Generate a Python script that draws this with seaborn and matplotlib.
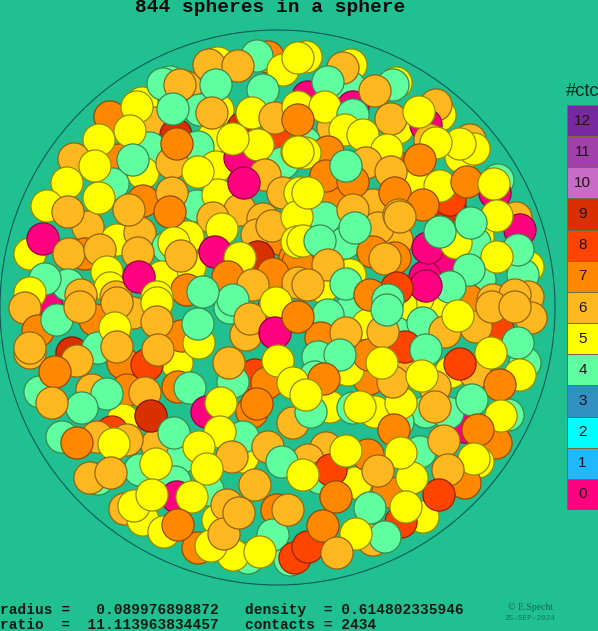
import numpy as np
import pandas as pd
import matplotlib
matplotlib.use("Agg")
import matplotlib.pyplot as plt
from matplotlib.colors import ListedColormap, to_rgba
from matplotlib.patches import Circle
import seaborn as sns

# Contact counts and their colours
ctc_levels = [12, 11, 10, 9, 8, 7, 6, 5, 4, 3, 2, 1, 0]
ctc_colors = ["#7828A0", "#A040A8", "#C86CC8", "#D83000", "#FF4400", "#FF8800", "#FFB81F",
              "#FFFF00", "#60FFA0", "#3090C0", "#00FFFF", "#20B8FF", "#FF0080"]
background = "#20C090"

# Spheres deep in the packing
rear_spheres = [
    (268,57,7),(218,63,5),(170,82,4),(186,87,6),(110,117,7),(142,103,5),(200,110,4),(218,110,5),
    (297,122,7),(153,123,6),(176,135,9),(213,138,5),(198,147,4),(150,148,4),(277,140,8),(243,128,9),
    (283,163,4),(120,160,7),(143,173,5),(172,163,6),(216,167,5),(240,158,0),(113,184,4),(143,201,7),
    (197,206,4),(218,195,5),(240,210,6),(213,218,6),(263,219,6),(257,235,6),(283,240,7),(88,227,6),
    (117,240,5),(140,233,6),(30,254,5),(85,254,7),(168,247,4),(188,237,5),(190,267,5),(258,257,9),
    (295,258,7),(68,285,4),(162,277,5),(187,290,7),
    (351,65,5),(350,87,4),(396,83,5),(308,97,0),(353,107,0),(398,128,5),(440,115,5),(436,105,6),
    (426,125,0),(333,128,6),(430,140,6),(474,149,5),(470,140,6),(461,157,5),(305,143,4),(398,168,8),
    (498,180,4),(495,193,0),(418,180,5),(447,197,5),(450,208,9),(450,200,8),(313,192,5),(338,197,7),
    (373,205,6),(325,218,4),(516,218,6),(520,230,0),(478,237,5),(475,243,4),(446,262,0),(528,267,5),
    (480,280,4),(425,277,0),(345,243,4),(397,240,6),(378,228,6),(373,252,7),(395,258,7),(350,275,5),
    (523,275,4),(323,287,5),(298,263,7),(528,297,6),(468,300,7),(441,303,5),(418,298,5),(401,305,5),
    (351,310,4),
    (47,307,0),(95,320,7),(133,313,6),(30,353,6),(72,353,9),(98,348,4),(123,363,7),(177,363,5),
    (182,336,7),(230,308,4),(273,310,10),(255,375,8),(267,383,7),(252,412,7),(178,387,7),(92,390,6),
    (40,392,4),(127,390,7),(123,420,5),(157,445,6),(182,457,4),(175,482,4),(140,470,4),(112,432,8),
    (127,440,6),(97,437,6),(62,437,4),(98,479,4),(90,478,6),(125,509,6),(143,520,5),(177,497,0),
    (164,532,5),(198,548,7),(208,490,4),(218,520,5),(227,505,6),(277,510,7),(248,558,4),(233,555,5),
    (290,560,4),(243,457,5),
    (328,315,4),(321,338,7),(396,333,4),(368,325,5),(423,323,4),(498,330,8),(525,363,4),(451,372,5),
    (475,373,6),(508,415,4),(496,443,7),(465,427,0),(478,462,5),(465,483,7),(423,517,5),(401,522,8),
    (426,412,4),(448,413,4),(398,422,4),(420,452,4),(388,492,7),(373,540,6),(385,537,4),(356,483,5),
    (368,455,7),(326,448,6),(308,460,6),(320,478,4),(331,470,8),(330,407,5),(353,408,4),(375,412,5),
    (401,403,5),(369,379,7),(405,363,6),(435,387,6),(318,357,4),(348,370,5),(315,377,4),(369,355,7),
    (405,347,8),
]

# Spheres resting on top of them, nearest last
front_spheres = [
    (257,56,4),(209,65,6),(238,66,6),(283,70,5),(163,84,4),(180,85,6),(216,85,4),(263,90,4),
    (137,107,5),(173,109,4),(212,113,6),(252,113,5),(275,118,6),(130,131,5),(99,140,5),(177,144,7),
    (258,145,5),(233,139,5),(297,152,5),(74,159,6),(133,160,4),(95,166,5),(198,172,5),(265,175,6),
    (244,183,0),(67,183,5),(99,198,5),(172,193,6),(170,212,7),(129,210,6),(47,206,5),(68,212,6),
    (283,193,6),(300,193,5),(272,226,6),(222,229,5),(297,217,5),(43,239,0),(69,254,6),(100,250,6),
    (138,253,6),(174,243,5),(181,256,6),(215,252,0),(240,258,5),(228,277,7),(273,274,7),(253,285,6),
    (68,285,4),(45,279,4),(30,293,5),(107,272,5),(110,288,5),(81,295,6),(116,297,6),(139,277,0),
    (157,297,5),(233,300,4),(203,292,4),(298,283,6),(297,242,5),
    (306,57,5),(298,58,5),(343,68,6),(328,82,4),(393,85,4),(375,91,6),(298,107,5),(325,107,5),
    (353,115,4),(391,119,6),(419,112,5),(298,120,7),(345,130,5),(363,135,5),(474,149,5),(460,144,5),
    (436,143,5),(328,152,7),(387,150,5),(305,153,5),(298,152,5),(366,163,6),(420,160,7),(391,172,6),
    (326,176,7),(353,182,7),(346,166,4),(440,186,5),(467,182,7),(494,184,5),(308,193,5),(395,193,7),
    (423,205,7),(353,210,6),(399,215,6),(400,217,6),(355,228,4),(497,216,5),(428,248,0),(456,243,5),
    (471,223,4),(440,232,4),(518,250,4),(497,257,5),(469,270,4),(450,287,4),(426,286,0),(303,241,5),
    (320,241,4),(385,259,6),(328,265,6),(346,284,4),(397,288,8),(370,295,7),(308,285,6),(388,300,4),
    (493,300,6),(515,295,6),
    (25,308,6),(38,331,7),(57,320,4),(80,307,6),(117,303,6),(115,328,5),(117,347,6),(30,348,6),
    (77,361,6),(55,372,7),(147,365,8),(157,303,5),(157,322,6),(158,350,6),(199,343,5),(198,324,4),
    (246,335,6),(250,319,6),(276,303,5),(275,333,0),(298,317,7),(278,361,5),(293,383,5),(233,382,4),
    (229,363,6),(190,388,4),(145,393,6),(107,394,4),(82,408,4),(52,403,6),(151,416,9),(257,404,7),
    (293,423,6),(207,412,0),(221,403,5),(243,437,4),(220,432,5),(268,447,6),(174,433,4),(199,447,5),
    (232,457,6),(282,462,4),(255,485,6),(207,469,5),(156,464,5),(114,444,5),(77,443,7),(111,473,6),
    (134,506,5),(152,495,5),(192,497,5),(178,525,7),(211,546,5),(224,534,6),(239,513,6),(273,535,4),
    (288,510,6),(260,552,5),(295,558,8),(308,547,8),
    (346,333,6),(383,332,6),(387,310,4),(445,332,6),(476,327,6),(458,316,5),(492,307,6),(531,318,6),
    (515,307,6),(518,343,4),(426,350,4),(491,353,5),(520,375,5),(460,364,8),(500,385,7),(472,400,4),
    (501,416,5),(478,430,7),(474,459,5),(444,441,6),(448,470,6),(439,495,8),(412,478,5),(406,507,5),
    (435,407,6),(394,430,7),(401,453,5),(378,471,6),(370,508,4),(356,534,5),(336,497,7),(346,451,5),
    (303,475,5),(323,526,7),(337,553,6),(311,412,4),(360,407,5),(393,382,6),(382,363,5),(422,376,5),
    (340,355,4),(324,379,7),(306,395,5),
]

title = "844 spheres in a sphere"
stats_lines = ["radius =   0.089976898872   density  = 0.614802335946",
               "ratio  =  11.113963834457   contacts = 2434"]

spheres = pd.DataFrame(rear_spheres + front_spheres, columns=["x", "y", "ctc"])

W, H = 598, 631
fig = plt.figure(figsize=(W / 100, H / 100), dpi=100, facecolor=background)
ax = fig.add_axes([0, 0, 1, 1])
ax.set_xlim(0, W)
ax.set_ylim(H, 0)
ax.axis("off")

# Container outline
ax.add_patch(Circle((277.5, 307.5), 277.5, fill=False, ec="#0E5A5A", lw=0.8))

palette = dict(zip(ctc_levels, ctc_colors))
sns.scatterplot(data=spheres, x="x", y="y", hue="ctc", palette=palette, s=535, ax=ax,
                legend=False, linewidth=0.9, clip_on=False)

# Each sphere gets a rim in a darker tone of its own colour
rim = np.array([to_rgba(palette[c]) for c in spheres["ctc"]]) * [0.58, 0.55, 0.5, 1]
ax.collections[-1].set_edgecolor(rim)

ax.text(270, 8, title, family="Liberation Mono", weight="bold", fontsize=14,
        ha="center", va="center", color="#0a0a0a")
for y, line in zip([610, 625], stats_lines):
    ax.text(0, y, line, family="Liberation Mono", weight="bold", fontsize=10.45,
            ha="left", va="center", color="#0a1a14")
ax.text(531, 607, "© E.Specht", family="Liberation Serif", fontsize=7,
        ha="center", va="center", color="#0E6A55")
ax.text(530, 618, "25-SEP-2024", family="Liberation Mono", fontsize=5.6,
        ha="center", va="center", color="#0E7A60")
ax.text(566, 91, "#ctc", family="Liberation Sans", fontsize=13.2, ha="left", va="center",
        color="#0a2a24")

# Colour key for the contact counts
key = fig.add_axes([567 / W, 1 - 510 / H, 31 / W, 405 / H])
key_values = np.array(ctc_levels).reshape(-1, 1)
sns.heatmap(key_values, ax=key, cbar=False, xticklabels=False, yticklabels=False,
            cmap=ListedColormap(ctc_colors[::-1]), vmin=-0.5, vmax=12.5,
            annot=True, fmt="d", annot_kws={"fontsize": 11, "family": "Liberation Sans",
                                            "color": "#201018"},
            linewidths=0.6, linecolor="#7A6A40")
fig.savefig("out.png", dpi=100, facecolor=background)
